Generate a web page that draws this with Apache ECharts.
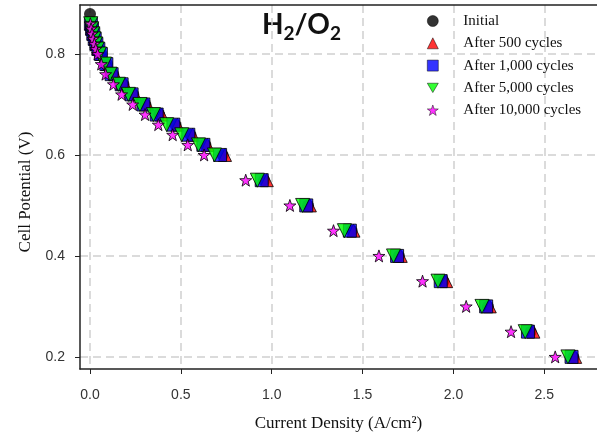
<!DOCTYPE html>
<html>
<head>
<meta charset="utf-8">
<script src="https://cdn.jsdelivr.net/npm/echarts@6/dist/echarts.min.js"></script>
<style>html,body{margin:0;padding:0;background:#fff;}#c{width:597px;height:432px;}</style>
</head>
<body>
<div id="c"></div>
<script>
// Cell potential (V) rows
const voltages = [0.86,0.85,0.84,0.83,0.82,0.81,0.80,0.78,0.76,0.74,0.72,0.70,0.68,0.66,0.64,0.62,0.60,0.55,0.50,0.45,0.40,0.35,0.30,0.25,0.20];
// Current density (A/cm2) per series
const initialOCV = [0.0, 0.879];
const iInitial = [0.006,0.012,0.019,0.028,0.037,0.049,0.063,0.094,0.128,0.184,0.238,0.305,0.381,0.470,0.553,0.635,0.730,0.958,1.20,1.44,1.70,1.945,2.19,2.425,2.66];
const i500     = [0.006,0.013,0.020,0.029,0.039,0.051,0.066,0.097,0.138,0.193,0.248,0.316,0.395,0.481,0.565,0.646,0.743,0.973,1.21,1.45,1.71,1.96,2.20,2.44,2.67];
const i1000    = [0.005,0.011,0.018,0.026,0.035,0.046,0.060,0.090,0.119,0.174,0.229,0.294,0.367,0.459,0.541,0.624,0.716,0.945,1.19,1.43,1.69,1.93,2.18,2.41,2.65];
const i5000    = [0.004,0.009,0.015,0.022,0.030,0.040,0.052,0.080,0.110,0.156,0.211,0.275,0.349,0.422,0.505,0.597,0.685,0.921,1.17,1.40,1.67,1.915,2.157,2.395,2.63];
const i10000   = [0.002,0.006,0.011,0.017,0.024,0.032,0.042,0.062,0.086,0.129,0.174,0.235,0.303,0.376,0.455,0.538,0.628,0.857,1.10,1.34,1.59,1.83,2.07,2.317,2.56];
const seriesNames = ['Initial','After 500 cycles','After 1,000 cycles','After 5,000 cycles','After 10,000 cycles'];
const xTicks = [0,0.5,1.0,1.5,2.0,2.5];
const yTicks = [0.2,0.4,0.6,0.8];

function pairs(cur){ return cur.map((c,k)=>[c, voltages[k]]); }
const initData = [initialOCV].concat(pairs(iInitial));

const star = 'path://M0,-10 L2.35,-3.24 L9.51,-3.09 L3.8,1.24 L5.88,8.09 L0,4 L-5.88,8.09 L-3.8,1.24 L-9.51,-3.09 L-2.35,-3.24 Z';
const downTri = 'path://M0,0 L20,0 L10,17 Z';
const edge = {borderColor:'#000', borderWidth:1};

const chart = echarts.init(document.getElementById('c'), null, {renderer:'canvas'});
const gridLine = {show:true, lineStyle:{color:'#cfcfcf', width:1.5, type:[8,5]}};
chart.setOption({
  animation:false,
  backgroundColor:'#fff',
  grid:{left:80, right:0, top:5, bottom:63, containLabel:false, outerBoundsMode:'none'},
  xAxis:[{
    type:'value', min:-0.055, max:2.79,
    axisLine:{show:true, onZero:false, lineStyle:{color:'#222', width:1.5}},
    axisTick:{show:true, length:5, customValues:xTicks, lineStyle:{color:'#222'}},
    axisLabel:{customValues:xTicks, margin:19, color:'#333', fontFamily:'Liberation Sans', fontSize:14,
      formatter:v=>v.toFixed(1)},
    splitLine:gridLine,
    name:'Current Density (A/cm²)', nameLocation:'middle', nameGap:46,
    nameTextStyle:{fontFamily:'Liberation Serif', fontSize:17, color:'#111'}
  },{
    type:'value', position:'top', min:-0.055, max:2.79,
    axisLine:{show:true, onZero:false, lineStyle:{color:'#222', width:1.5}},
    axisTick:{show:false}, axisLabel:{show:false}, splitLine:{show:false}
  }],
  yAxis:{
    type:'value', min:0.176, max:0.897,
    axisLine:{show:true, onZero:false, lineStyle:{color:'#222', width:1.5}},
    axisTick:{show:true, length:5, customValues:yTicks, lineStyle:{color:'#222'}},
    axisLabel:{customValues:yTicks, margin:15, color:'#333', fontFamily:'Liberation Sans', fontSize:14,
      formatter:v=>v.toFixed(1)},
    splitLine:gridLine,
    name:'Cell Potential (V)', nameLocation:'middle', nameGap:46, nameRotate:90,
    nameTextStyle:{fontFamily:'Liberation Serif', fontSize:17, color:'#111', padding:[0,10,0,0]}
  },
  legend:{
    orient:'vertical', left:427, top:13.5, padding:0, itemWidth:11, itemHeight:11, itemGap:7.3,
    itemStyle:{borderWidth:0.6, borderColor:'#000'},
    data:[
      {name:seriesNames[0]},
      {name:seriesNames[1]},
      {name:seriesNames[2]},
      {name:seriesNames[3], icon:downTri},
      {name:seriesNames[4]}
    ],
    textStyle:{fontFamily:'Liberation Serif', fontSize:15, color:'#111', padding:[0,0,0,20]}
  },
  graphic:[{
    type:'text', left:262, top:10,
    style:{
      text:'{a|H}{b|2}{a|/O}{b|2}',
      rich:{
        a:{fontFamily:'Lato', fontWeight:'bold', fontSize:28, fill:'#111', verticalAlign:'top', lineHeight:32},
        b:{fontFamily:'Lato', fontWeight:'bold', fontSize:19, fill:'#111', padding:[14,0,0,0], lineHeight:32}
      }
    }
  }],
  series:[
    {name:seriesNames[0], type:'scatter', data:initData, symbol:'circle', symbolSize:12,
      itemStyle:{color:'#000'}},
    {name:seriesNames[1], type:'scatter', data:pairs(i500), symbol:'triangle', symbolSize:13,
      itemStyle:Object.assign({color:'#ff0000'}, edge)},
    {name:seriesNames[2], type:'scatter', data:pairs(i1000), symbol:'rect', symbolSize:13,
      itemStyle:Object.assign({color:'#0000ff'}, edge)},
    {name:seriesNames[3], type:'scatter', data:pairs(i5000), symbol:'triangle', symbolRotate:180, symbolSize:14,
      itemStyle:Object.assign({color:'#00ff00'}, edge)},
    {name:seriesNames[4], type:'scatter', data:pairs(i10000), symbol:star, symbolSize:12,
      itemStyle:Object.assign({color:'#ff00ff'}, edge)}
  ]
});
</script>
</body>
</html>
